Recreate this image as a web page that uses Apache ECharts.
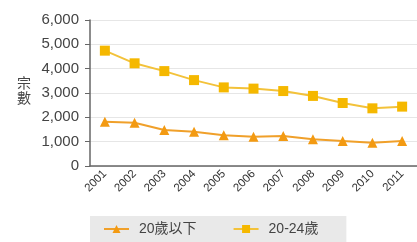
<!DOCTYPE html>
<html>
<head>
<meta charset="utf-8">
<script src="https://cdn.jsdelivr.net/npm/echarts@6/dist/echarts.min.js"></script>
<style>
  html, body { margin: 0; padding: 0; background: #fff; }
  #chart { width: 417px; height: 242px; }
</style>
</head>
<body>
<div id="chart"></div>
<script>
// 年份
const years = ['2001', '2002', '2003', '2004', '2005', '2006', '2007', '2008', '2009', '2010', '2011'];
// 20歲以下
const under20 = [1820, 1780, 1480, 1410, 1260, 1200, 1230, 1100, 1030, 960, 1030];
// 20-24歲
const age20to24 = [4740, 4220, 3900, 3530, 3230, 3180, 3080, 2880, 2590, 2370, 2440];
const seriesNames = ['20歲以下', '20-24歲'];
const yTitle = '宗\n數';

const chart = echarts.init(document.getElementById('chart'));
const font = '"Liberation Sans", "Noto Sans CJK TC", sans-serif';

chart.setOption({
  animation: false,
  title: {
    text: yTitle,
    left: 12,
    top: 70,
    textStyle: { color: '#444', fontSize: 14, fontWeight: 'normal', fontFamily: '"Noto Sans CJK TC"', lineHeight: 15 }
  },
  grid: { left: 90, right: -3, top: 20, bottom: 76 },
  xAxis: {
    type: 'category',
    data: years,
    boundaryGap: true,
    axisLine: { lineStyle: { color: '#666', width: 1.5 } },
    axisTick: { show: false },
    axisLabel: { rotate: 45, color: '#333', fontSize: 11.5, fontFamily: font, margin: 6 }
  },
  yAxis: {
    type: 'value',
    min: 0,
    max: 6000,
    interval: 1000,
    axisLine: { show: true, lineStyle: { color: '#666', width: 1.5 } },
    axisTick: { show: true, length: 5, lineStyle: { color: '#666' } },
    splitLine: { lineStyle: { color: '#e6e6e6' } },
    axisLabel: {
      color: '#444', fontSize: 15, fontFamily: font, margin: 11,
      formatter: v => v.toLocaleString('en-US')
    }
  },
  legend: {
    data: seriesNames,
    left: 90,
    bottom: 0,
    padding: [6, 28, 6, 13],
    itemGap: 36,
    itemWidth: 25,
    itemHeight: 10,
    backgroundColor: '#e9e9e9',
    textStyle: { color: '#444', fontSize: 14, fontFamily: font, padding: [0, 0, 0, 5] }
  },
  series: [
    {
      name: seriesNames[0],
      type: 'line',
      data: under20,
      symbol: 'triangle',
      symbolSize: 10,
      itemStyle: { color: '#f39a12' },
      lineStyle: { color: '#f0a02a', width: 2 }
    },
    {
      name: seriesNames[1],
      type: 'line',
      data: age20to24,
      symbol: 'rect',
      symbolSize: 10,
      itemStyle: { color: '#f5b800' },
      lineStyle: { color: '#f3c23a', width: 2 }
    }
  ]
});
</script>
</body>
</html>
